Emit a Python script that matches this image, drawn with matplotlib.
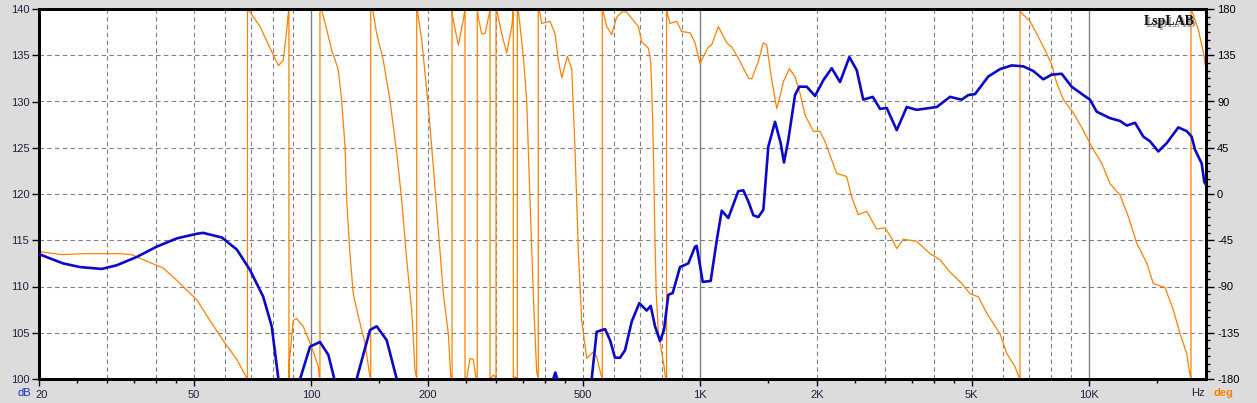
import matplotlib
matplotlib.use("Agg")
import matplotlib.pyplot as plt
import matplotlib.transforms as mtransforms
from matplotlib.ticker import FixedLocator, FixedFormatter, NullFormatter

# ---------------- data ----------------
spl_freq = [20, 23.05, 25.5, 29.0, 31.7, 35.7, 40.1, 45.2, 50.9, 52.8, 59.0, 64.5,
            69.7, 75.4, 79.3, 82.5, 87, 91, 93.8, 99.5, 105.5, 110.9, 114.9, 121,
            126, 131.1, 141.9, 147.6, 156.6, 166.2, 180, 300, 405, 419.8, 424.9,
            429.9, 450, 510, 527, 542.8, 570.3, 587.5, 605, 623.2, 641.9, 667.8,
            698.6, 729.8, 747.4, 766.7, 789.7, 808.6, 829.5, 851.3, 888.9, 933.8,
            971.6, 981, 1017, 1066, 1105, 1138, 1183, 1255, 1293, 1332, 1372, 1413,
            1456, 1499, 1560, 1613, 1645, 1687, 1756, 1801, 1882, 1977, 2076, 2182,
            2292, 2422, 2530, 2630, 2782, 2904, 3022, 3206, 3402, 3608, 4062, 4395,
            4710, 4898, 5096, 5512, 5908, 6332, 6782, 7194, 7632, 8022, 8512, 9030,
            9672, 10062, 10472, 11330, 12022, 12508, 13140, 13802, 14356, 15082,
            15850, 16976, 17838, 18372, 18736, 19496, 19798, 20000]
spl_db = [113.5, 112.5, 112.1, 111.9, 112.3, 113.2, 114.3, 115.2, 115.7, 115.8, 115.3, 114.0,
          111.8, 108.9, 105.7, 100.0, 94, 94, 100.0, 103.5, 104.0, 102.6, 100.0, 95,
          95, 100.0, 105.3, 105.7, 104.2, 100.0, 92, 85, 92, 100.0, 100.7,
          100.0, 95, 95, 100.0, 105.1, 105.4, 104.2, 102.3, 102.3, 103.1, 106.2,
          108.2, 107.4, 107.9, 105.7, 104.1, 105.3, 109.1, 109.3, 112.1, 112.5,
          114.3, 114.4, 110.5, 110.6, 115.0, 118.2, 117.4, 120.3, 120.4, 119.2, 117.7, 117.5,
          118.3, 125.1, 127.8, 125.5, 123.4, 125.8, 130.7, 131.6, 131.6, 130.6, 132.3, 133.6,
          132.1, 134.8, 133.4, 130.2, 130.5, 129.2, 129.3, 126.9, 129.4, 129.1, 129.4, 130.5,
          130.2, 130.7, 130.8, 132.7, 133.5, 133.9, 133.8, 133.3, 132.4, 132.9, 133.0, 131.6,
          130.7, 130.2, 128.9, 128.2, 127.9, 127.4, 127.7, 126.2, 125.7, 124.6,
          125.5, 127.2, 126.8, 126.2, 124.8, 123.3, 121.3, 121.0]

phase_freq = [20, 22.9, 26.3, 32.3, 34.6, 37.1, 41.7, 45.2, 50.9, 55.0, 60.1, 64.5, 68.4,
              68.7, 68.7, 69.7, 74.0, 78.5, 82.5, 84.9, 86.7, 87.2, 87.5, 87.8, 87.8, 88.0,
              90.1, 91.9, 95.6, 100.5, 104.5, 105.1, 105.5, 105.5, 106.6, 109.8, 113.1,
              117.6, 120.0, 122.4, 123.6, 126.0, 128.5, 132.4, 137.7, 141.3, 142.5, 142.5,
              144.2, 147.6, 153.5, 159.7, 166.2, 171.2, 176.3, 181.6, 185.2, 187.1, 187.1,
              188.2, 192.7, 200.4, 208.4, 219.0, 225.6, 228.8, 230.6, 230.6, 231.5, 239.3,
              246.4, 247.9, 249.0, 249.0, 251.6, 256.5, 261.5, 265.7, 267.7, 267.7, 269.3,
              274.8, 280.3, 287.6, 288.8, 288.8, 294.5, 298.3, 299.1, 299.1, 300.4, 309.4,
              318.7, 328.3, 330.2, 331.4, 331.4, 334.8, 339.4, 339.4, 341.4, 351.6, 358.7,
              365.8, 373.0, 380.5, 384.2, 384.2, 388.1, 392.0, 411.8, 424.3, 432.7, 441.4,
              456.3, 468.3, 477.5, 486.9, 496.8, 511.7, 530.2, 542.8, 556.8, 561.2, 561.2,
              564.5, 576.0, 593.2, 611.0, 629.3, 648.3, 667.8, 694.5, 708.7, 736.9, 747.4,
              753, 759, 766, 772, 782, 798, 809, 815, 821, 821, 824, 838, 872, 898, 943,
              972, 1000, 1051, 1072, 1115, 1172, 1207, 1256, 1332, 1359, 1413, 1456, 1485,
              1530, 1576, 1607, 1638, 1698, 1756, 1809, 1863, 1957, 2036, 2097, 2247, 2384,
              2456, 2553, 2685, 2847, 2991, 3112, 3206, 3334, 3608, 3680, 3904, 4142, 4395,
              4710, 4948, 5198, 5463, 5908, 6149, 6457, 6613, 6652, 6652, 6680, 7056, 7342,
              7712, 8024, 8264, 8594, 9118, 9672, 10166, 10786, 11330, 12020, 12628, 13272,
              14080, 14640, 15696, 16486, 17156, 17840, 18194, 18300, 18300, 18444, 19110,
              19766, 19880]
phase_deg = [-56, -59, -58, -58, -59, -64, -72, -84, -103, -123, -145, -161, -179,
             -180, 180, 177, 163, 142, 125, 130, 160, 171, 176, 180, -180, -163,
             -123, -121, -129, -149, -168, -178, -180, 180, 179, 160, 140,
             121, 91, 46, -6, -58, -97, -119, -145, -174, -180, 180,
             179, 156, 130, 91, 40, -6, -64, -113, -171, -180, 180,
             176, 150, 85, 7, -97, -136, -178, -180, 180, 172, 145,
             169, 176, 180, -180, -179, -160, -161, -179, -180, 180, 172,
             156, 156, 176, 180, -180, -176, -178, -180, 180, 179, 156,
             137, 163, 172, 180, -180, -178, -180, 180, 179, 134, 91,
             -6, -97, -173, -180, 180, 176, 166, 168, 156, 130, 113,
             134, 122, 43, -55, -123, -160, -154, -158, -176, -180, 180,
             177, 163, 155, 172, 177, 177, 171, 163, 148, 142, 129,
             95, 46, -38, -96, -135, -155, -168, -178, -180, 180, 176, 166, 168, 158, 157,
             147, 127, 143, 145, 163, 147, 143, 132, 113, 112, 129, 147, 145,
             111, 83, 95, 109, 122, 114, 98, 77, 61, 61, 51, 20, 17,
             -3, -20, -17, -34, -33, -43, -53, -44, -46, -49, -58, -64, -76,
             -87, -97, -100, -116, -136, -155, -168, -178, -180, 180, 177, 168, 156,
             140, 126, 108, 92, 79, 62, 46, 30, 10, -1, -22, -48,
             -67, -87, -91, -113, -136, -155, -176, -180, 180, 177, 160,
             135, 126]

x_major = [20, 50, 100, 200, 500, 1000, 2000, 5000, 10000]
x_major_labels = ["20", "50", "100", "200", "500", "1K", "2K", "5K", "10K"]
x_minor = [25, 30, 35, 40, 45, 150, 250, 300, 350, 400, 450,
           1500, 2500, 3000, 3500, 4000, 4500, 15000]
db_ticks = [100, 105, 110, 115, 120, 125, 130, 135, 140]
deg_ticks = [-180, -135, -90, -45, 0, 45, 90, 135, 180]
grid_dashed = [30, 40, 50, 60, 70, 80, 90, 200, 300, 400, 500, 600, 700, 800, 900,
               2000, 3000, 4000, 5000, 6000, 7000, 8000, 9000]
grid_solid = [100, 1000, 10000]

# ---------------- figure ----------------
W, H = 1257, 403
fig = plt.figure(figsize=(W / 100, H / 100), dpi=100, facecolor="#dcdcdc")
rect = [39 / W, 24 / H, (1206 - 39) / W, (379 - 9) / H]
ax = fig.add_axes(rect)
ax2 = ax.twinx()
ax.set_zorder(2)
ax2.set_zorder(1)
ax.patch.set_visible(False)
ax2.patch.set_visible(True)
ax2.patch.set_facecolor("white")

ax.set_xscale("log")
ax.set_xlim(20, 20000)
ax.set_ylim(100, 140)
ax2.set_ylim(-180, 180)

grid_c = "#808080"
for v in grid_dashed:
    ax2.axvline(v, color=grid_c, lw=0.8, ls=(0, (4, 3)), zorder=0.5)
for v in grid_solid:
    ax2.axvline(v, color=grid_c, lw=1.0, ls="-", zorder=0.5)
for d in deg_ticks[1:-1]:
    ax2.axhline(d, color=grid_c, lw=0.8, ls=(0, (4, 3)), zorder=0.5)

ax2.plot(phase_freq, phase_deg, color="#ff8000", lw=0.9, zorder=2)
ax.plot(spl_freq, spl_db, color="#0a0ac8", lw=1.9, zorder=3, solid_joinstyle="round")

ax.xaxis.set_major_locator(FixedLocator(x_major))
ax.xaxis.set_major_formatter(FixedFormatter(x_major_labels))
ax.xaxis.set_minor_locator(FixedLocator(x_minor))
ax.xaxis.set_minor_formatter(NullFormatter())
ax.tick_params(axis="x", which="major", length=5, width=1, direction="out", pad=3,
               labelsize=8, labelcolor="#202040")
ax.tick_params(axis="x", which="minor", length=3, width=1, direction="out")

ax.set_yticks(db_ticks)
ax.set_yticklabels([str(v) for v in db_ticks])
ax.tick_params(axis="y", which="major", length=5, width=1, direction="out", pad=2,
               labelsize=8, labelcolor="#202040")

ax2.set_yticks(deg_ticks)
ax2.set_yticklabels([str(v) for v in deg_ticks])
ax2.yaxis.set_minor_locator(FixedLocator([-180 + 7.5 * i for i in range(49)]))
ax2.tick_params(axis="y", which="major", length=6, width=1, direction="out", pad=2,
                labelsize=8, labelcolor="black")
ax2.tick_params(axis="y", which="minor", length=3, width=1, direction="out")

for a in (ax, ax2):
    for lbl in a.get_xticklabels() + a.get_yticklabels():
        lbl.set_family("Liberation Sans")
    for s in a.spines.values():
        s.set_linewidth(2.0)
        s.set_color("black")

# nudge the first frequency label to the right like the reference
first = ax.xaxis.get_major_ticks()[0].label1
first.set_transform(first.get_transform() +
                    mtransforms.ScaledTranslation(2.5 / 100, 0, fig.dpi_scale_trans))

ylab = 1 - 393 / H
fig.text(18 / W, ylab, "dB", color="#2030d0", fontsize=8, family="Liberation Sans",
         ha="left", va="center")
fig.text(1205 / W, ylab, "Hz", color="#202040", fontsize=8, family="Liberation Sans",
         ha="right", va="center")
fig.text(1213 / W, ylab, "deg", color="#ff8000", fontsize=8, family="Liberation Sans",
         ha="left", va="center", fontweight="bold")

# LspLAB logo with shadow
fig.text(1196.5 / W, 1 - 27 / H, "LspLAB", color="#a0a0a0", fontsize=10,
         family="Liberation Serif", fontweight="bold", ha="right", va="baseline", zorder=5)
fig.text(1195 / W, 1 - 25.5 / H, "LspLAB", color="#101010", fontsize=10,
         family="Liberation Serif", fontweight="bold", ha="right", va="baseline", zorder=6)

fig.savefig("out.png", dpi=100, facecolor=fig.get_facecolor())
